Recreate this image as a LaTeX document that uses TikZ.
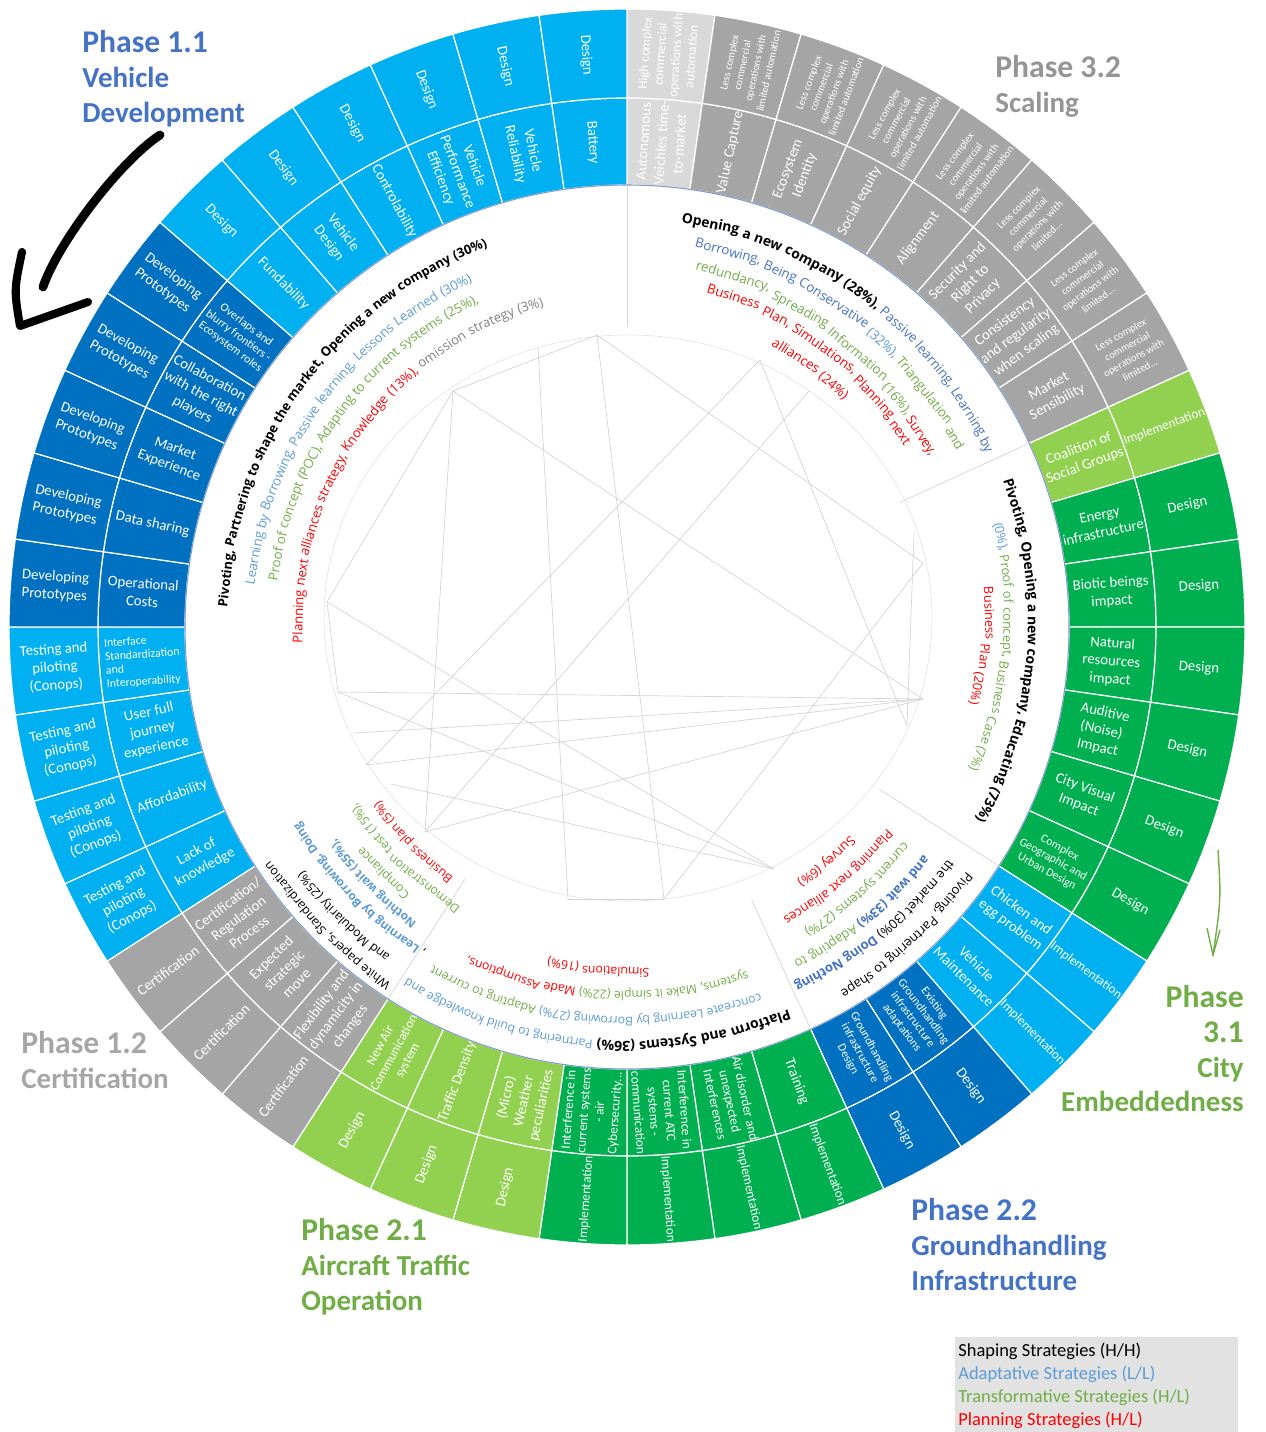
\documentclass[tikz,border=0pt]{standalone}
\usepackage{fontspec}
\setmainfont{Carlito}
\newfontfamily\ctfont{Open Sans}

\definecolor{cyanb}{HTML}{00B0F0}
\definecolor{darkb}{HTML}{0070C0}
\definecolor{lgray}{HTML}{D9D9D9}
\definecolor{mgray}{HTML}{A5A5A5}
\definecolor{lgreen}{HTML}{92D050}
\definecolor{dgreen}{HTML}{00B050}
\definecolor{phblue}{HTML}{4472C4}
\definecolor{phgreen}{HTML}{70AD47}
\definecolor{phgray}{HTML}{A6A6A6}
\definecolor{tblue}{HTML}{4472C4}
\definecolor{tlblue}{HTML}{5B9BD5}
\definecolor{tgreen}{HTML}{70AD47}
\definecolor{tred}{HTML}{FF0000}
\definecolor{tgray}{HTML}{808080}
\definecolor{webgray}{HTML}{D4D4D4}
\definecolor{legbg}{HTML}{E2E2E2}
\definecolor{ringline}{HTML}{7F9CCB}

% fonts of the curved strategy texts (sizes set per sector)
\newcommand{\ctrsz}{7}
\newcommand{\ctbsz}{7.6}
\newcommand{\ctr}{\ctfont\fontsize{\ctrsz}{9}\selectfont}
\newcommand{\ctb}{\ctfont\bfseries\fontsize{\ctbsz}{9}\selectfont}

% one slice: index, colour, inner style, inner text, outer style, outer text
\newcommand{\seg}[6]{%
  \pgfmathsetmacro{\segA}{90-#1*360/44}%
  \pgfmathsetmacro{\segB}{90-(#1+1)*360/44}%
  \pgfmathsetmacro{\segM}{90-(#1+0.5)*360/44}%
  \pgfmathsetmacro{\segR}{cos(\segM)>=0 ? \segM : \segM-180}%
  \filldraw[cell, fill=#2] (\segA:442) arc[start angle=\segA, end angle=\segB, radius=442]
    -- (\segB:529) arc[start angle=\segB, end angle=\segA, radius=529] -- cycle;
  \filldraw[cell, fill=#2] (\segA:529) arc[start angle=\segA, end angle=\segB, radius=529]
    -- (\segB:618) arc[start angle=\segB, end angle=\segA, radius=618] -- cycle;
  \node[#3, rotate=\segR] (in#1) at (\segM:485.5) {#4};
  \node[#5, rotate=\segR] (out#1) at (\segM:573.5) {#6};
}

% words set clockwise on an arc; "*name" switches the style
\makeatletter
\newbox\cl@box
\newdimen\cl@s
\newdimen\cl@w
\newdimen\cl@sp
\newcount\cl@cnt
\newif\ifcl@place
\def\cl@stopmark{@@@}
\def\cl@s@k{\ctr\color{black}}
\def\cl@s@kb{\ctb\color{black}}
\def\cl@s@b{\ctr\color{tblue}}
\def\cl@s@bb{\ctb\color{tblue}}
\def\cl@s@lb{\ctr\color{tlblue}}
\def\cl@s@lbb{\ctb\color{tlblue}}
\def\cl@s@g{\ctr\color{tgreen}}
\def\cl@s@r{\ctr\color{tred}}
\def\cl@s@gr{\ctr\color{tgray}}
\def\cl@firstof#1#2\cl@nil{#1}
\def\cl@setstyle*#1\cl@nil{\def\cl@cur{\csname cl@s@#1\endcsname}}
\def\cl@parse#1 {%
  \def\cl@arg{#1}%
  \ifx\cl@arg\cl@stopmark
    \let\cl@next\relax
  \else
    \cl@process{#1}%
    \let\cl@next\cl@parse
  \fi
  \cl@next}
\def\cl@process#1{%
  \expandafter\ifx\cl@firstof#1\relax\cl@nil*%
    \cl@setstyle#1\cl@nil
  \else
    \setbox\cl@box\hbox{\pgfinterruptpicture\cl@cur #1\endpgfinterruptpicture}\cl@w=\wd\cl@box
    \setbox\cl@box\hbox{\pgfinterruptpicture\cl@cur\ \endpgfinterruptpicture}\cl@sp=\wd\cl@box
    \ifcl@place\cl@placeword{#1}\fi
    \advance\cl@s by \cl@w
    \advance\cl@s by \cl@sp
  \fi}
\def\cl@placeword#1{%
  \pgfmathsetmacro\cl@th{\cl@ths-(\the\cl@s+0.5*\the\cl@w)/\cl@R*57.29578}%
  \pgfmathsetmacro\cl@rr{\cl@ra+(\cl@rb-\cl@ra)*(\cl@aa-\cl@th)/(\cl@aa-\cl@ab)}%
  \global\advance\cl@cnt by 1
  \node[anchor=base, inner sep=0pt, rotate=\cl@th-90] (cw\the\cl@cnt) at (\cl@th:\cl@rr) {\cl@cur #1};%
}
% start angle, end angle, start radius, end radius, words
\newcommand{\arcline}[5]{%
  \def\cl@aa{#1}\def\cl@ab{#2}\def\cl@ra{#3}\def\cl@rb{#4}%
  \pgfmathsetmacro\cl@R{(#3+#4)/2*0.5690551}%
  \def\cl@cur{\cl@s@k}\cl@placefalse\cl@s=0pt
  \cl@parse#5 @@@ %
  \advance\cl@s by -\cl@sp
  \pgfmathsetmacro\cl@ths{(#1+#2)/2+0.5*\the\cl@s/\cl@R*57.29578}%
  \def\cl@cur{\cl@s@k}\cl@placetrue\cl@s=0pt
  \cl@parse#5 @@@ %
}
\makeatother

\begin{document}
\begin{tikzpicture}[x=0.02cm, y=0.02cm,
    cell/.style={draw=white, line width=0.7pt},
    lbl/.style={text=white, align=center, inner sep=0pt, font=\fontsize{8.4}{10.2}\selectfont},
    lblsm/.style={lbl, font=\fontsize{7.5}{8.8}\selectfont},
    lblxs/.style={lbl, font=\fontsize{6.7}{7.7}\selectfont},
    lbltiny/.style={lbl, font=\fontsize{6}{7.6}\selectfont},
    phase/.style={font=\bfseries\fontsize{16.5}{19.8}\selectfont, inner sep=0pt},
    web/.style={draw=webgray, line width=0.4pt}]

\useasboundingbox (0,0) rectangle (1265,-1432);

\begin{scope}[shift={(627,-627)}]
  % Phase 3.2
  \seg{0}{lgray}{lbl}{Autonomous\\Veichles time-\\to-market}{lblsm}{High complex\\commercial\\operations with\\automation}
  \seg{1}{mgray}{lbl}{Value Capture}{lbltiny}{Less complex\\commercial\\operations with\\limited automation}
  \seg{2}{mgray}{lbl}{Ecosystem\\Identity}{lbltiny}{Less complex\\commercial\\operations with\\limited automation}
  \seg{3}{mgray}{lbl}{Social equity}{lbltiny}{Less complex\\commercial\\operations with\\limited automation}
  \seg{4}{mgray}{lbl}{Alignment}{lbltiny}{Less complex\\commercial\\operations with\\limited automation}
  \seg{5}{mgray}{lbl}{Security and\\Right to\\Privacy}{lbltiny}{Less complex\\commercial\\operations with\\limited...}
  \seg{6}{mgray}{lbl}{Consistency\\and regularity\\when scaling}{lbltiny}{Less complex\\commercial\\operations with\\limited...}
  \seg{7}{mgray}{lbl}{Market\\Sensibility}{lbltiny}{Less complex\\commercial\\operations with\\limited...}
  % Phase 3.1
  \seg{8}{lgreen}{lbl}{Coalition of\\Social Groups}{lblsm}{Implementation}
  \seg{9}{dgreen}{lbl}{Energy\\infrastructure}{lbl}{Design}
  \seg{10}{dgreen}{lbl}{Biotic beings\\impact}{lbl}{Design}
  \seg{11}{dgreen}{lbl}{Natural\\resources\\impact}{lbl}{Design}
  \seg{12}{dgreen}{lbl}{Auditive\\(Noise)\\Impact}{lbl}{Design}
  \seg{13}{dgreen}{lbl}{City Visual\\Impact}{lbl}{Design}
  \seg{14}{dgreen}{lblxs}{Complex\\Geographic and\\Urban Design}{lbl}{Design}
  % Phase 2.2
  \seg{15}{cyanb}{lbl}{Chicken and\\egg problem}{lblsm}{Implementation}
  \seg{16}{cyanb}{lbl}{Vehicle\\Maintenance}{lblsm}{Implementation}
  \seg{17}{darkb}{lblxs}{Existing\\Groundhandling\\infrastructure\\adaptations}{lbl}{Design}
  \seg{18}{darkb}{lblxs}{Groundhandling\\infrastructure\\Design}{lbl}{Design}
  % Phase 2.1
  \seg{19}{dgreen}{lbl}{Training}{lblsm}{Implementation}
  \seg{20}{dgreen}{lblsm}{Air disorder and\\unexpected\\Interferences}{lblsm}{Implementation}
  \seg{21}{dgreen}{lblsm}{Interference in\\current ATC\\systems -\\communication}{lblsm}{Implementation}
  \seg{22}{dgreen}{lblsm}{Interference in\\current systems\\- air\\Cybersecurity...}{lblsm}{Implementation}
  \seg{23}{lgreen}{lbl}{(Micro)\\Weather\\peculiarities}{lbl}{Design}
  \seg{24}{lgreen}{lbl}{Traffic Density}{lbl}{Design}
  \seg{25}{lgreen}{lblsm}{New Air\\Communication\\system}{lbl}{Design}
  % Phase 1.2
  \seg{26}{mgray}{lbl}{Flexibility and\\dynamicity in\\changes}{lbl}{Certification}
  \seg{27}{mgray}{lbl}{Expected\\strategic\\move}{lbl}{Certification}
  \seg{28}{mgray}{lbl}{Certification/\\Regulation\\Process}{lbl}{Certification}
  % Phase 1.1
  \seg{29}{cyanb}{lbl}{Lack of\\knowledge}{lbl}{Testing and\\piloting\\(Conops)}
  \seg{30}{cyanb}{lbl}{Affordability}{lbl}{Testing and\\piloting\\(Conops)}
  \seg{31}{cyanb}{lbl}{User full\\journey\\experience}{lbl}{Testing and\\piloting\\(Conops)}
  \seg{32}{cyanb}{lblxs, align=left}{Interface\\Standardization\\and\\Interoperability}{lbl}{Testing and\\piloting\\(Conops)}
  \seg{33}{darkb}{lbl}{Operational\\Costs}{lbl}{Developing\\Prototypes}
  \seg{34}{darkb}{lbl}{Data sharing}{lbl}{Developing\\Prototypes}
  \seg{35}{darkb}{lbl}{Market\\Experience}{lbl}{Developing\\Prototypes}
  \seg{36}{darkb}{lbl}{Collaboration\\with the right\\players}{lbl}{Developing\\Prototypes}
  \seg{37}{darkb}{lblxs}{Overlaps and\\blurry frontiers -\\Ecosystem roles}{lbl}{Developing\\Prototypes}
  \seg{38}{cyanb}{lbl}{Fundability}{lbl}{Design}
  \seg{39}{cyanb}{lbl}{Vehicle\\Design}{lbl}{Design}
  \seg{40}{cyanb}{lbl}{Controlability}{lbl}{Design}
  \seg{41}{cyanb}{lbl}{Vehicle\\Performance\\Efficiency}{lbl}{Design}
  \seg{42}{cyanb}{lbl}{Vehicle\\Reliability}{lbl}{Design}
  \seg{43}{cyanb}{lbl}{Battery}{lbl}{Design}

  \draw[ringline, line width=0.6pt] (0,0) circle[radius=442];

  % sector dividers in the white disc
  \foreach \a in {90, 24.55, -32.73, -65.45, -122.73} {
    \draw[web] (\a:300) -- (\a:441);
  }

  % strategy texts
  \renewcommand{\ctrsz}{7.5}\renewcommand{\ctbsz}{7.4}
  \arcline{176.2}{111}{399}{405}{*kb Pivoting, Partnering to shape the market, Opening a new company (30\%)}
  \arcline{174}{113.7}{374}{378}{*lb Learning by Borrowing, Passive learning, Lessons Learned (30\%)}
  \arcline{172}{115}{352}{356}{*g Proof of concept (POC), Adapting to current systems (25\%),}
  \arcline{181.3}{106}{324}{331}{*r Planning next alliances strategy, Knowledge (13\%), *gr omission strategy (3\%)}

  \renewcommand{\ctrsz}{7.6}\renewcommand{\ctbsz}{7.9}
  \arcline{83.2}{25}{408}{398}{*kb Opening a new company (28\%), *b Passive learning, Learning by}
  \arcline{80.8}{27.4}{386}{373}{*b Borrowing, Being Conservative *lb (32\%), *g Triangulation and}
  \arcline{80.2}{28.6}{365}{345}{*g redundancy, Spreading Information (16\%), *r Survey,}
  \arcline{77.4}{32.5}{344}{330}{*r Business Plan, Simulations, Planning next}
  \arcline{63.5}{45.8}{316}{313}{*r alliances (24\%)}

  \renewcommand{\ctrsz}{7.3}\renewcommand{\ctbsz}{7.9}
  \arcline{21.1}{-28.7}{403}{398}{*kb Pivoting, Opening a new company, Educating (73\%)}
  \arcline{15.7}{-22.5}{381}{370}{*lb (0\%), *g Proof of concept, Business Case (7\%)}
  \arcline{5.5}{-11.7}{360}{350}{*r Business Plan (20\%)}

  \renewcommand{\ctrsz}{7.4}\renewcommand{\ctbsz}{7.4}
  \arcline{-35}{-60.5}{417}{422}{*k Pivoting, Partnering to shape}
  \arcline{-36}{-64.8}{396}{393}{*k the market (30\%) *bb Doing Nothing}
  \arcline{-38}{-63}{374}{373}{*bb and wait (33\%) *g Adapting to}
  \arcline{-36.5}{-61}{349}{351}{*g current systems (27\%)}
  \arcline{-37.6}{-62}{328}{329}{*r Planning next alliances}
  \arcline{-42.6}{-56.6}{305}{305}{*r Survey (6\%)}

  \renewcommand{\ctrsz}{7}\renewcommand{\ctbsz}{8}
  \arcline{-67.4}{-121.7}{414}{414}{*kb Platform and Systems (36\%) *lb Partnering to build knowledge and}
  \arcline{-68.7}{-121.1}{389}{390}{*lb concreate Learning by Borrowing (27\%) *g Adapting to current}
  \arcline{-69.9}{-116.6}{364}{364}{*g systems, Make it simple (22\%) *r Made Assumptions,}
  \arcline{-85.8}{-103.8}{341}{339}{*r Simulations (16\%)}

  \renewcommand{\ctrsz}{7}\renewcommand{\ctbsz}{6.8}
  \arcline{-124}{-146.3}{427}{424}{*k White papers, Standardization}
  \arcline{-126}{-142.7}{405}{405}{*k and Modularity (25\%)}
  \arcline{-122.4}{-148.7}{381}{381}{*k , *lbb Learning by Borrowing, Doing}
  \arcline{-125.8}{-143.6}{362}{360}{*lbb Nothing wait (55\%),}
  \arcline{-129.3}{-140.1}{342}{343}{*g Compliance}
  \arcline{-121.2}{-146.4}{324}{322}{*g Demonstration test (15\%),}
  \arcline{-125.1}{-144.5}{304}{302}{*r Business plan (5\%)}
\end{scope}

% web of chords in the centre
\draw[draw=webgray!60, line width=0.4pt] (628,-618) ellipse[x radius=304, y radius=283];
\coordinate (v1) at (597,-335);
\coordinate (v2) at (538,-348);
\coordinate (v3) at (453,-391);
\coordinate (v4) at (760,-360);
\coordinate (v5) at (809,-391);
\coordinate (v6) at (327,-602);
\coordinate (v7) at (923,-563);
\coordinate (v8) at (923,-699);
\coordinate (v9) at (914,-533);
\coordinate (v10) at (338,-692);
\coordinate (v11) at (354,-733);
\coordinate (v12) at (366,-765);
\coordinate (v13) at (391,-784);
\coordinate (v14) at (425,-832);
\coordinate (v15) at (568,-899);
\coordinate (v16) at (664,-899);
\coordinate (v17) at (774,-869);
\coordinate (v18) at (907,-726);
\draw[web] (v3) -- (v1);
\draw[web] (v1) -- (v7);
\draw[web] (v3) -- (v8);
\draw[web] (v3) -- (v14);
\draw[web] (v6) -- (v3);
\draw[web] (v6) -- (v17);
\draw[web] (v4) -- (v18);
\draw[web] (v4) -- (v12);
\draw[web] (v5) -- (v14);
\draw[web] (v10) -- (v8);
\draw[web] (v11) -- (v8);
\draw[web] (v12) -- (v8);
\draw[web] (v14) -- (v8);
\draw[web] (v15) -- (v16);
\draw[web] (v16) -- (v7);
\draw[web] (v17) -- (v10);
\draw[web] (v2) -- (v15);
\draw[web] (v1) -- (v16);
\draw[web] (v9) -- (v18);
\draw[web] (v13) -- (v17);
\draw[web] (v6) -- (v10);

% phase titles
\node[phase, text=phblue, anchor=north west, align=left] (ph11) at (82,-30) {{\fontsize{18}{19.8}\selectfont Phase 1.1}\\Vehicle\\Development};
\node[phase, text=phgray!90!black, anchor=north west, align=left] (ph32) at (995,-55) {{\fontsize{18}{19.8}\selectfont Phase 3.2}\\Scaling};
\node[phase, text=phgreen, anchor=north east, align=right] (ph31) at (1244,-985) {{\fontsize{18}{19.8}\selectfont Phase}\\{\fontsize{18}{19.8}\selectfont 3.1}\\City\\Embeddedness};
\node[phase, text=phblue, anchor=north west, align=left] (ph22) at (911,-1198) {{\fontsize{18}{19.8}\selectfont Phase 2.2}\\Groundhandling\\Infrastructure};
\node[phase, text=phgreen, anchor=north west, align=left] (ph21) at (301,-1218) {{\fontsize{18}{19.8}\selectfont Phase 2.1}\\Aircraft Traffic\\Operation};
\node[phase, text=phgray, anchor=north west, align=left] (ph12) at (21,-1031) {{\fontsize{18}{19.8}\selectfont Phase 1.2}\\Certification};

% hand drawn arrow
\coordinate (bk1) at (160,-135);
\coordinate (bk2) at (43,-287);
\coordinate (bkl) at (22,-252);
\coordinate (bkc) at (20,-326);
\coordinate (bkr) at (88,-302);
\draw[line width=5pt, line cap=round] (bk1) .. controls (118,-163) and (57,-245) .. (bk2);
\draw[line width=4.6pt, line cap=round, line join=round] (bkl) .. controls (14,-290) .. (bkc) -- (bkr);

% green arrow
\coordinate (gr1) at (1218,-850);
\coordinate (gr2) at (1213,-955);
\draw[phgreen, line width=0.8pt] (gr1) .. controls (1221,-900) .. (gr2);
\draw[phgreen, line width=0.8pt] (1207,-928) -- (gr2) -- (1220,-930);

% legend
\node[fill=legbg, inner sep=0pt, anchor=north west, minimum width=161pt, minimum height=54pt] (legbox) at (955,-1337) {};
\node[anchor=north west, inner sep=0pt, align=left, font=\fontsize{10.5}{13.1}\selectfont] (legtxt) at (958,-1343)
  {Shaping Strategies (H/H)\\\textcolor{tlblue}{Adaptative Strategies (L/L)}\\\textcolor{tgreen}{Transformative Strategies (H/L)}\\\textcolor{tred}{Planning Strategies (H/L)}};
\end{tikzpicture}
\end{document}
